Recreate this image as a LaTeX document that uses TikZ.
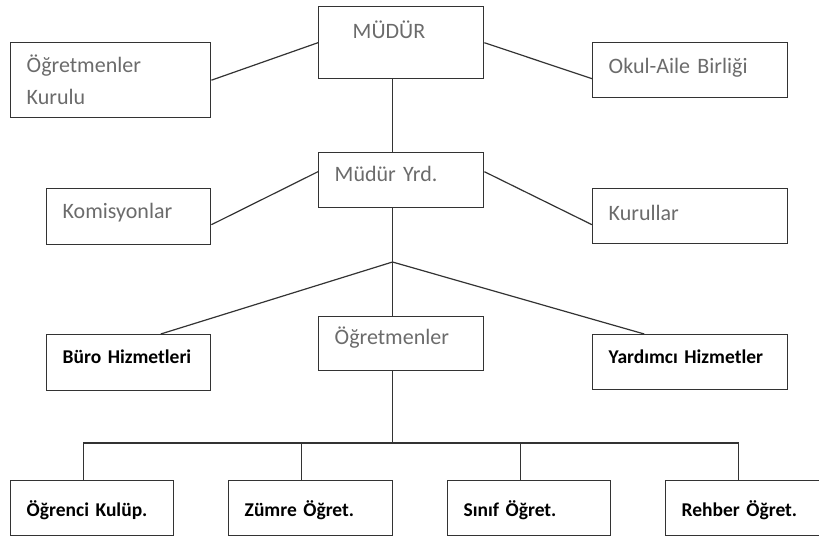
\documentclass[tikz,border=0pt]{standalone}
\usepackage{fontspec}
\setmainfont{Carlito}
\usetikzlibrary{calc}
\definecolor{yazigri}{HTML}{6B6B6B}
\definecolor{cizgi}{HTML}{333333}
\tikzset{
	kutu/.style={draw=cizgi, line width=1.4pt, anchor=north west, inner xsep=16pt, inner ysep=0pt, align=left, text depth=12pt, font=\fontsize{22}{32}\selectfont, text=yazigri},
	altkutu/.style={kutu, text depth=0pt, font=\fontsize{19.5}{28}\selectfont\bfseries, text=black},
	bag/.style={draw=cizgi, line width=1.2pt}
}

\begin{document}
\begin{tikzpicture}[x=1pt, y=-1pt]
			%%%%% START %%%%%
			\useasboundingbox (0, 0) rectangle (819, 538);
			\clip (0, 0) rectangle (819, 538);
			
			\node[kutu, text depth={}, text width=133pt, minimum height=72pt] (mudur) at (318, 6) {\hspace*{18pt}MÜDÜR\\[-6pt]\mbox{}};
			\node[kutu, text depth={}, text width=168pt, minimum height=75pt] (kurulu) at (10, 42) {Öğretmenler\\Kurulu};
			\node[kutu, text depth=8pt, text width=163pt, minimum height=55pt] (birlik) at (592, 42) {Okul-Aile Birliği};
			
			\node[kutu, text width=133pt, minimum height=55pt] (yrd) at (318, 152) {Müdür Yrd.};
			\node[kutu, text width=132pt, minimum height=56pt] (komisyon) at (46, 188) {Komisyonlar};
			\node[kutu, text depth=7pt, text width=163pt, minimum height=55pt] (kurullar) at (592, 188) {Kurullar};
			
			\node[kutu, text depth=16pt, text width=133pt, minimum height=54pt] (ogretmen) at (318, 316) {Öğretmenler};
			\node[altkutu, text depth=12pt, text width=132pt, minimum height=56pt] (buro) at (46, 334) {Büro Hizmetleri};
			\node[altkutu, text depth=12pt, text width=163pt, minimum height=55pt] (yardimci) at (592, 334) {Yardımcı Hizmetler};
			
			\node[altkutu, text width=131pt, minimum height=55pt] (kulup) at (10, 480) {Öğrenci Kulüp.};
			\node[altkutu, text width=132pt, minimum height=55pt] (zumre) at (228, 480) {Zümre Öğret.};
			\node[altkutu, text width=131pt, minimum height=55pt] (sinif) at (447, 480) {Sınıf Öğret.};
			\node[altkutu, text width=132pt, minimum height=55pt] (rehber) at (665, 480) {Rehber Öğret.};
			
			% yan kollar
			\draw[bag] (mudur.west) -- (kurulu.east);
			\draw[bag] (mudur.east) -- ([yshift=-8.5pt]birlik.west);
			\draw[bag] ([yshift=8.5pt]yrd.west) -- ([yshift=-8pt]komisyon.east);
			\draw[bag] ([yshift=8.5pt]yrd.east) -- ([yshift=-8.5pt]kurullar.west);
			
			% orta hat
			\coordinate (dugum) at (392.5, 262);
			\coordinate (kol) at (392.5, 443);
			\draw[bag] (mudur.south -| dugum) -- (yrd.north -| dugum);
			\draw[bag] (yrd.south -| dugum) -- (dugum) -- (ogretmen.north -| dugum);
			\draw[bag] ([xshift=32pt]buro.north) -- (dugum) -- ([xshift=-46pt]yardimci.north);
			\draw[bag] (ogretmen.south -| kol) -- (kol);
			\foreach \k in {kulup, zumre, sinif, rehber}
				\draw[bag] ([xshift=-9pt]\k.north) |- (kol);
			
			%%%%% END %%%%%
\end{tikzpicture}
\end{document}
